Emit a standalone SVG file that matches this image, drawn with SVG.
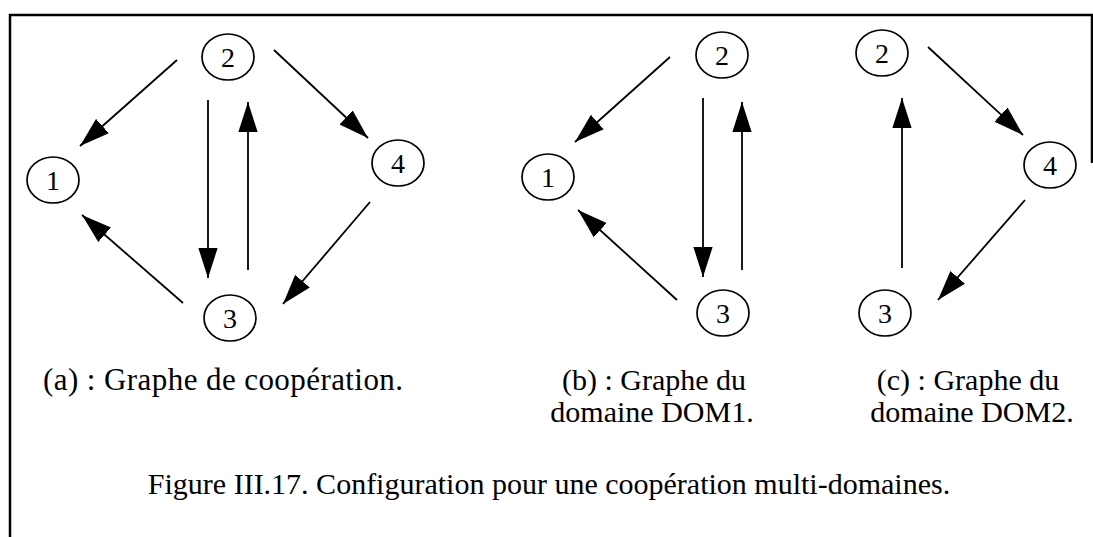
<svg xmlns="http://www.w3.org/2000/svg" width="1093" height="537" viewBox="0 0 1093 537">
<style>
.node ellipse{fill:#fff;stroke:#000;stroke-width:1.7}
.node text{font-family:"Liberation Serif","Times New Roman",serif;font-size:28px;text-anchor:middle;fill:#000}
.edge{stroke:#000;stroke-width:1.8;fill:none;marker-end:url(#ah)}
.cap{font-family:"Liberation Serif","Times New Roman",serif;font-size:30px;fill:#000;text-anchor:middle}
.frame{stroke:#000;stroke-width:2.5;fill:none}
</style>
<defs>
<marker id="ah" markerUnits="userSpaceOnUse" markerWidth="30" markerHeight="20" viewBox="0 0 28 18" refX="28" refY="9" orient="auto">
<path d="M0,0 L28,9 L0,18 z" fill="#000"/>
</marker>
</defs>
<rect width="1093" height="537" fill="#fff"/>
<path class="frame" d="M10,537 L10,15 L1092,15 L1092,163"/>
<g id="connectors">
<line class="edge" x1="177" y1="60" x2="80" y2="146"/>
<line class="edge" x1="208" y1="100" x2="208" y2="278"/>
<line class="edge" x1="248" y1="270" x2="248" y2="102"/>
<line class="edge" x1="274" y1="50" x2="368" y2="138"/>
<line class="edge" x1="183" y1="303" x2="82" y2="215"/>
<line class="edge" x1="370" y1="202" x2="283" y2="304"/>
<line class="edge" x1="670" y1="57" x2="575" y2="142"/>
<line class="edge" x1="703" y1="98" x2="703" y2="277"/>
<line class="edge" x1="742" y1="270" x2="742" y2="102"/>
<line class="edge" x1="677" y1="300" x2="578" y2="210"/>
<line class="edge" x1="902" y1="268" x2="902" y2="98"/>
<line class="edge" x1="928" y1="47" x2="1023" y2="135"/>
<line class="edge" x1="1025" y1="200" x2="938" y2="300"/>
</g>
<g id="a-n2" class="node"><ellipse cx="228" cy="57" rx="26" ry="23"/><text x="228" y="67">2</text></g>
<g id="a-n1" class="node"><ellipse cx="53" cy="180" rx="26" ry="23"/><text x="53" y="190">1</text></g>
<g id="a-n3" class="node"><ellipse cx="230" cy="318" rx="26" ry="23"/><text x="230" y="328">3</text></g>
<g id="a-n4" class="node"><ellipse cx="398" cy="163" rx="26" ry="23"/><text x="398" y="173">4</text></g>
<g id="b-n2" class="node"><ellipse cx="722" cy="55" rx="26" ry="23"/><text x="722" y="65">2</text></g>
<g id="b-n1" class="node"><ellipse cx="548" cy="177" rx="26" ry="23"/><text x="548" y="187">1</text></g>
<g id="b-n3" class="node"><ellipse cx="723" cy="313" rx="26" ry="23"/><text x="723" y="323">3</text></g>
<g id="c-n2" class="node"><ellipse cx="882" cy="53" rx="26" ry="23"/><text x="882" y="63">2</text></g>
<g id="c-n4" class="node"><ellipse cx="1050" cy="165" rx="26" ry="23"/><text x="1050" y="175">4</text></g>
<g id="c-n3" class="node"><ellipse cx="885" cy="313" rx="26" ry="23"/><text x="885" y="323">3</text></g>
<g id="captions">
<text class="cap" x="43" y="390" style="text-anchor:start;font-size:31px" textLength="360" lengthAdjust="spacing">(a) : Graphe de coopération.</text>
<text class="cap" x="654" y="390">(b) : Graphe du</text>
<text class="cap" x="652" y="422">domaine DOM1.</text>
<text class="cap" x="968" y="390">(c) : Graphe du</text>
<text class="cap" x="972" y="422">domaine DOM2.</text>
<text class="cap" x="549" y="494">Figure III.17. Configuration pour une coopération multi-domaines.</text>
</g>
</svg>
